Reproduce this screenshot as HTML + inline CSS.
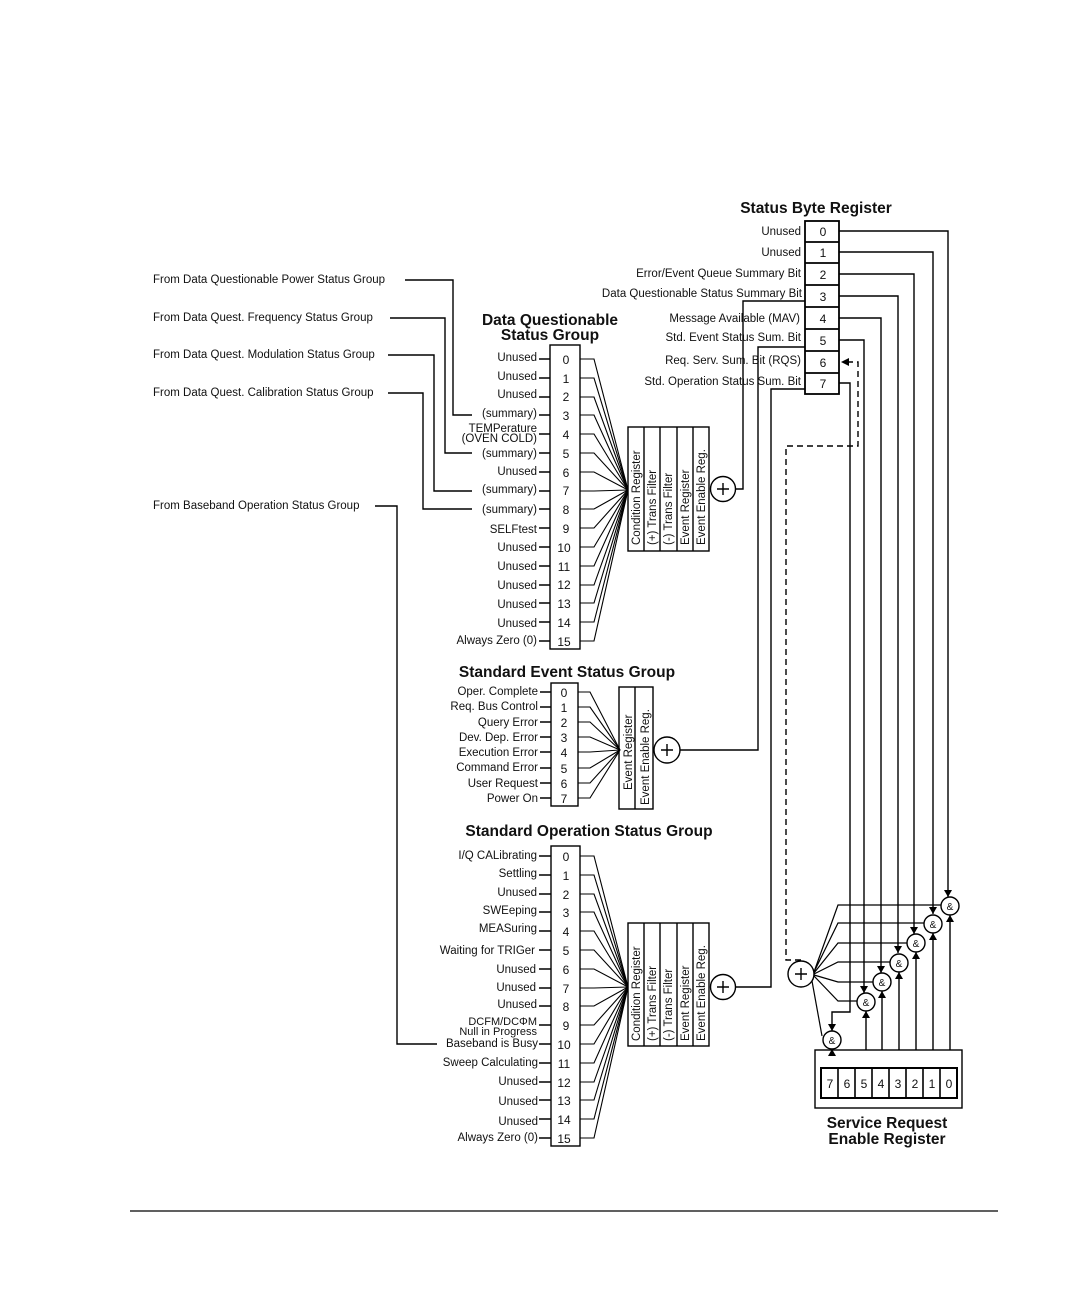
<!DOCTYPE html>
<html><head><meta charset="utf-8"><style>
html,body{margin:0;padding:0;background:#fff}
svg{display:block}
text{font-family:"Liberation Sans",sans-serif;fill:#111}
.l{font-size:11.5px;text-anchor:end}
.n{font-size:12px;text-anchor:middle}
.t{font-size:15.5px;font-weight:bold;text-anchor:middle}
.v{font-size:11.5px}
</style></head><body>
<svg width="1080" height="1296" viewBox="0 0 1080 1296" xmlns="http://www.w3.org/2000/svg">
<g stroke="#000" fill="none" stroke-width="1.4">
<!-- left feeder lines -->
<polyline points="405,280 453,280 453,415 472,415"/>
<polyline points="390,318 445,318 445,453 472,453"/>
<polyline points="388,355 434,355 434,491 472,491"/>
<polyline points="388,393 423,393 423,509 472,509"/>
<polyline points="375,506 397,506 397,1044 437,1044"/>

<!-- DQ box -->
<rect x="550" y="345" width="30" height="304"/>
<!-- DQ ticks -->
<path d="M539,359H550M539,378H550M539,397H550M539,415H550M539,434H550M539,453H550M539,472H550M539,491H550M539,509H550M539,528H550M539,547H550M539,566H550M539,585H550M539,603H550M539,622H550M539,641H550"/>
<!-- DQ fan -->
<g stroke-width="1.1">
<polyline points="580,359 594,359 628,490"/><polyline points="580,378 594,378 628,490"/><polyline points="580,397 594,397 628,490"/><polyline points="580,415 594,415 628,490"/><polyline points="580,434 594,434 628,490"/><polyline points="580,453 594,453 628,490"/><polyline points="580,472 594,472 628,490"/><polyline points="580,491 594,491 628,490"/><polyline points="580,509 594,509 628,490"/><polyline points="580,528 594,528 628,490"/><polyline points="580,547 594,547 628,490"/><polyline points="580,566 594,566 628,490"/><polyline points="580,585 594,585 628,490"/><polyline points="580,603 594,603 628,490"/><polyline points="580,622 594,622 628,490"/><polyline points="580,641 594,641 628,490"/>
</g>
<rect x="628" y="427" width="81" height="124"/>
<path d="M644,427V551M660,427V551M677,427V551M693,427V551"/>
<circle cx="723" cy="489" r="12.5"/>
<path d="M717,489H729M723,483V495"/>
<polyline points="736,489 743,489 743,301 805,301"/>

<!-- Std Event -->
<rect x="551" y="683" width="27" height="123"/>
<path d="M540,692H551M540,707H551M540,722H551M540,737H551M540,752H551M540,768H551M540,783H551M540,798H551"/>
<g stroke-width="1.1">
<polyline points="578,692 590,692 620,750"/><polyline points="578,707 590,707 620,750"/><polyline points="578,722 590,722 620,750"/><polyline points="578,737 590,737 620,750"/><polyline points="578,752 590,752 620,750"/><polyline points="578,768 590,768 620,750"/><polyline points="578,783 590,783 620,750"/><polyline points="578,798 590,798 620,750"/>
</g>
<rect x="619" y="687" width="34" height="122"/>
<path d="M635,687V809"/>
<circle cx="667" cy="750" r="13"/>
<path d="M661,750H673M667,744V756"/>
<polyline points="680,750 758,750 758,347 805,347"/>

<!-- Std Operation -->
<rect x="551" y="846" width="29" height="300"/>
<path d="M539,856H551M539,875H551M539,894H551M539,912H551M539,931H551M539,950H551M539,969H551M539,988H551M539,1006H551M539,1025H551M539,1044H551M539,1063H551M539,1082H551M539,1100H551M539,1119H551M539,1138H551"/>
<g stroke-width="1.1">
<polyline points="580,856 594,856 628,987"/><polyline points="580,875 594,875 628,987"/><polyline points="580,894 594,894 628,987"/><polyline points="580,912 594,912 628,987"/><polyline points="580,931 594,931 628,987"/><polyline points="580,950 594,950 628,987"/><polyline points="580,969 594,969 628,987"/><polyline points="580,988 594,988 628,987"/><polyline points="580,1006 594,1006 628,987"/><polyline points="580,1025 594,1025 628,987"/><polyline points="580,1044 594,1044 628,987"/><polyline points="580,1063 594,1063 628,987"/><polyline points="580,1082 594,1082 628,987"/><polyline points="580,1100 594,1100 628,987"/><polyline points="580,1119 594,1119 628,987"/><polyline points="580,1138 594,1138 628,987"/>
</g>
<rect x="628" y="923" width="81" height="123"/>
<path d="M644,923V1046M660,923V1046M677,923V1046M693,923V1046"/>
<circle cx="723" cy="987" r="12.5"/>
<path d="M717,987H729M723,981V993"/>
<polyline points="736,987 771,987 771,389 805,389"/>

<!-- Status Byte Register -->
<rect x="805" y="221" width="34" height="173" stroke-width="1.8"/>
<path d="M805,242H839M805,263H839M805,285H839M805,307H839M805,329H839M805,351H839M805,373H839" stroke-width="1.8"/>
<polyline points="839,231 948,231 948,897"/>
<polyline points="839,252 933,252 933,914"/>
<polyline points="839,274 914,274 914,934"/>
<polyline points="839,296 898,296 898,953"/>
<polyline points="839,318 881,318 881,973"/>
<polyline points="839,340 864,340 864,993"/>
<polyline points="839,383 850,383 850,1012 832,1012 832,1031"/>
<!-- dashed RQS -->
<polyline points="801,960 786,960 786,446 858,446 858,362 848,362" stroke-dasharray="6,4"/>

<!-- sum circle -->
<circle cx="801" cy="974" r="13"/>
<path d="M795,974H807M801,968V980"/>
<g stroke-width="1.2">
<polyline points="814,972 838,905 941,905"/>
<polyline points="814,972 838,923 924,923"/>
<polyline points="814,973 838,943 907,943"/>
<polyline points="814,974 838,962 890,962"/>
<polyline points="814,975 838,982 873,982"/>
<polyline points="814,976 838,1001 857,1001"/>
<polyline points="812,981 822,1036"/>
</g>
<!-- gates -->
<g fill="#fff">
<circle cx="950" cy="906" r="9"/><circle cx="933" cy="924" r="9"/><circle cx="916" cy="943" r="9"/><circle cx="899" cy="963" r="9"/><circle cx="882" cy="982" r="9"/><circle cx="866" cy="1002" r="9"/><circle cx="832" cy="1040" r="9"/>
</g>
<!-- up lines from SRE -->
<path d="M950,1050V915M933,1050V933M916,1050V952M899,1050V972M882,1050V991M866,1050V1011M832,1050V1049"/>
<!-- SRE -->
<rect x="815" y="1050" width="147" height="58"/>
<rect x="821" y="1068" width="136" height="30" stroke-width="2"/>
<path d="M838,1068V1098M855,1068V1098M872,1068V1098M889,1068V1098M906,1068V1098M923,1068V1098M940,1068V1098" stroke-width="1.6"/>
<!-- footer -->
<path d="M130,1211H998" stroke-width="1.2"/>
</g>
<!-- arrowheads -->
<g fill="#000">
<path d="M944,890L952,890L948,897Z"/>
<path d="M929,907L937,907L933,914Z"/>
<path d="M910,927L918,927L914,934Z"/>
<path d="M894,946L902,946L898,953Z"/>
<path d="M877,966L885,966L881,973Z"/>
<path d="M860,986L868,986L864,993Z"/>
<path d="M828,1024L836,1024L832,1031Z"/>
<path d="M946,922L954,922L950,915Z"/>
<path d="M929,940L937,940L933,933Z"/>
<path d="M912,959L920,959L916,952Z"/>
<path d="M895,979L903,979L899,972Z"/>
<path d="M878,998L886,998L882,991Z"/>
<path d="M862,1018L870,1018L866,1011Z"/>
<path d="M828,1056L836,1056L832,1049Z"/>
<path d="M841,362L849,358L849,366Z"/>
</g>
<g style="font-size:10px;text-anchor:middle">
<text x="950" y="910">&amp;</text><text x="933" y="928">&amp;</text><text x="916" y="947">&amp;</text><text x="899" y="967">&amp;</text><text x="882" y="986">&amp;</text><text x="866" y="1006">&amp;</text><text x="832" y="1044">&amp;</text>
</g>

<!-- titles -->
<text class="t" x="816" y="213">Status Byte Register</text>
<text class="t" x="550" y="325">Data Questionable</text>
<text class="t" x="550" y="340">Status Group</text>
<text class="t" x="567" y="677">Standard Event Status Group</text>
<text class="t" x="589" y="836">Standard Operation Status Group</text>
<text class="t" x="887" y="1128">Service Request</text>
<text class="t" x="887" y="1144">Enable Register</text>

<!-- left labels -->
<g style="font-size:11.5px">
<text x="153" y="283">From Data Questionable Power Status Group</text>
<text x="153" y="321">From Data Quest. Frequency Status Group</text>
<text x="153" y="358">From Data Quest. Modulation Status Group</text>
<text x="153" y="396">From Data Quest. Calibration Status Group</text>
<text x="153" y="509">From Baseband Operation Status Group</text>
</g>

<!-- DQ labels -->
<g class="l">
<text x="537" y="361" class="l">Unused</text><text x="537" y="380" class="l">Unused</text><text x="537" y="398" class="l">Unused</text><text x="537" y="417" class="l">(summary)</text>
<text x="537" y="432" class="l">TEMPerature</text><text x="537" y="442" class="l">(OVEN COLD)</text>
<text x="537" y="457" class="l">(summary)</text><text x="537" y="475" class="l">Unused</text><text x="537" y="493" class="l">(summary)</text><text x="537" y="513" class="l">(summary)</text><text x="537" y="533" class="l">SELFtest</text><text x="537" y="551" class="l">Unused</text><text x="537" y="570" class="l">Unused</text><text x="537" y="589" class="l">Unused</text><text x="537" y="608" class="l">Unused</text><text x="537" y="627" class="l">Unused</text><text x="537" y="644" class="l">Always Zero (0)</text>
</g>
<g>
<text class="n" x="566" y="364">0</text><text class="n" x="566" y="383">1</text><text class="n" x="566" y="401">2</text><text class="n" x="566" y="420">3</text><text class="n" x="566" y="439">4</text><text class="n" x="566" y="458">5</text><text class="n" x="566" y="477">6</text><text class="n" x="566" y="495">7</text><text class="n" x="566" y="514">8</text><text class="n" x="566" y="533">9</text><text class="n" x="564" y="552">10</text><text class="n" x="564" y="571">11</text><text class="n" x="564" y="589">12</text><text class="n" x="564" y="608">13</text><text class="n" x="564" y="627">14</text><text class="n" x="564" y="646">15</text>
</g>
<!-- DQ vertical register text -->
<g class="v">
<text transform="translate(640,545) rotate(-90)">Condition Register</text>
<text transform="translate(656,545) rotate(-90)">(+) Trans Filter</text>
<text transform="translate(672,545) rotate(-90)">(-) Trans Filter</text>
<text transform="translate(689,545) rotate(-90)">Event Register</text>
<text transform="translate(705,545) rotate(-90)">Event Enable Reg.</text>
</g>

<!-- Event labels -->
<g>
<text class="l" x="538" y="695">Oper. Complete</text><text class="l" x="538" y="710">Req. Bus Control</text><text class="l" x="538" y="726">Query Error</text><text class="l" x="538" y="741">Dev. Dep. Error</text><text class="l" x="538" y="756">Execution Error</text><text class="l" x="538" y="771">Command Error</text><text class="l" x="538" y="787">User Request</text><text class="l" x="538" y="802">Power On</text>
<text class="n" x="564" y="697">0</text><text class="n" x="564" y="712">1</text><text class="n" x="564" y="727">2</text><text class="n" x="564" y="742">3</text><text class="n" x="564" y="757">4</text><text class="n" x="564" y="773">5</text><text class="n" x="564" y="788">6</text><text class="n" x="564" y="803">7</text>
</g>
<g class="v">
<text transform="translate(632,790) rotate(-90)">Event Register</text>
<text transform="translate(649,805) rotate(-90)">Event Enable Reg.</text>
</g>

<!-- Op labels -->
<g>
<text class="l" x="537" y="859">I/Q CALibrating</text><text class="l" x="537" y="877">Settling</text><text class="l" x="537" y="896">Unused</text><text class="l" x="537" y="914">SWEeping</text><text class="l" x="537" y="932">MEASuring</text><text class="l" x="535" y="954">Waiting for TRIGer</text><text class="l" x="536" y="973">Unused</text><text class="l" x="536" y="991">Unused</text><text class="l" x="537" y="1008">Unused</text>
<text class="l" x="537" y="1025" style="font-size:11px">DCFM/DCΦM</text><text class="l" x="537" y="1035" style="font-size:11px">Null in Progress</text>
<text class="l" x="538" y="1047">Baseband is Busy</text><text class="l" x="538" y="1066">Sweep Calculating</text><text class="l" x="538" y="1085">Unused</text><text class="l" x="538" y="1105">Unused</text><text class="l" x="538" y="1125">Unused</text><text class="l" x="538" y="1141">Always Zero (0)</text>
<text class="n" x="566" y="861">0</text><text class="n" x="566" y="880">1</text><text class="n" x="566" y="899">2</text><text class="n" x="566" y="917">3</text><text class="n" x="566" y="936">4</text><text class="n" x="566" y="955">5</text><text class="n" x="566" y="974">6</text><text class="n" x="566" y="993">7</text><text class="n" x="566" y="1011">8</text><text class="n" x="566" y="1030">9</text><text class="n" x="564" y="1049">10</text><text class="n" x="564" y="1068">11</text><text class="n" x="564" y="1087">12</text><text class="n" x="564" y="1105">13</text><text class="n" x="564" y="1124">14</text><text class="n" x="564" y="1143">15</text>
</g>
<g class="v">
<text transform="translate(640,1041) rotate(-90)">Condition Register</text>
<text transform="translate(656,1041) rotate(-90)">(+) Trans Filter</text>
<text transform="translate(672,1041) rotate(-90)">(-) Trans Filter</text>
<text transform="translate(689,1041) rotate(-90)">Event Register</text>
<text transform="translate(705,1041) rotate(-90)">Event Enable Reg.</text>
</g>

<!-- Status byte labels -->
<g>
<text class="l" x="801" y="235">Unused</text><text class="l" x="801" y="256">Unused</text><text class="l" x="801" y="277">Error/Event Queue Summary Bit</text><text class="l" x="802" y="297">Data Questionable Status Summary Bit</text><text class="l" x="800" y="322">Message Available (MAV)</text><text class="l" x="801" y="341">Std. Event Status Sum. Bit</text><text class="l" x="801" y="364">Req. Serv. Sum. Bit (RQS)</text><text class="l" x="801" y="385">Std. Operation Status Sum. Bit</text>
<text class="n" x="823" y="236">0</text><text class="n" x="823" y="257">1</text><text class="n" x="823" y="279">2</text><text class="n" x="823" y="301">3</text><text class="n" x="823" y="323">4</text><text class="n" x="823" y="345">5</text><text class="n" x="823" y="367">6</text><text class="n" x="823" y="388">7</text>
</g>
<!-- SRE numbers -->
<g>
<text class="n" x="830" y="1088">7</text><text class="n" x="847" y="1088">6</text><text class="n" x="864" y="1088">5</text><text class="n" x="881" y="1088">4</text><text class="n" x="898" y="1088">3</text><text class="n" x="915" y="1088">2</text><text class="n" x="932" y="1088">1</text><text class="n" x="949" y="1088">0</text>
</g>
</svg>
</body></html>
